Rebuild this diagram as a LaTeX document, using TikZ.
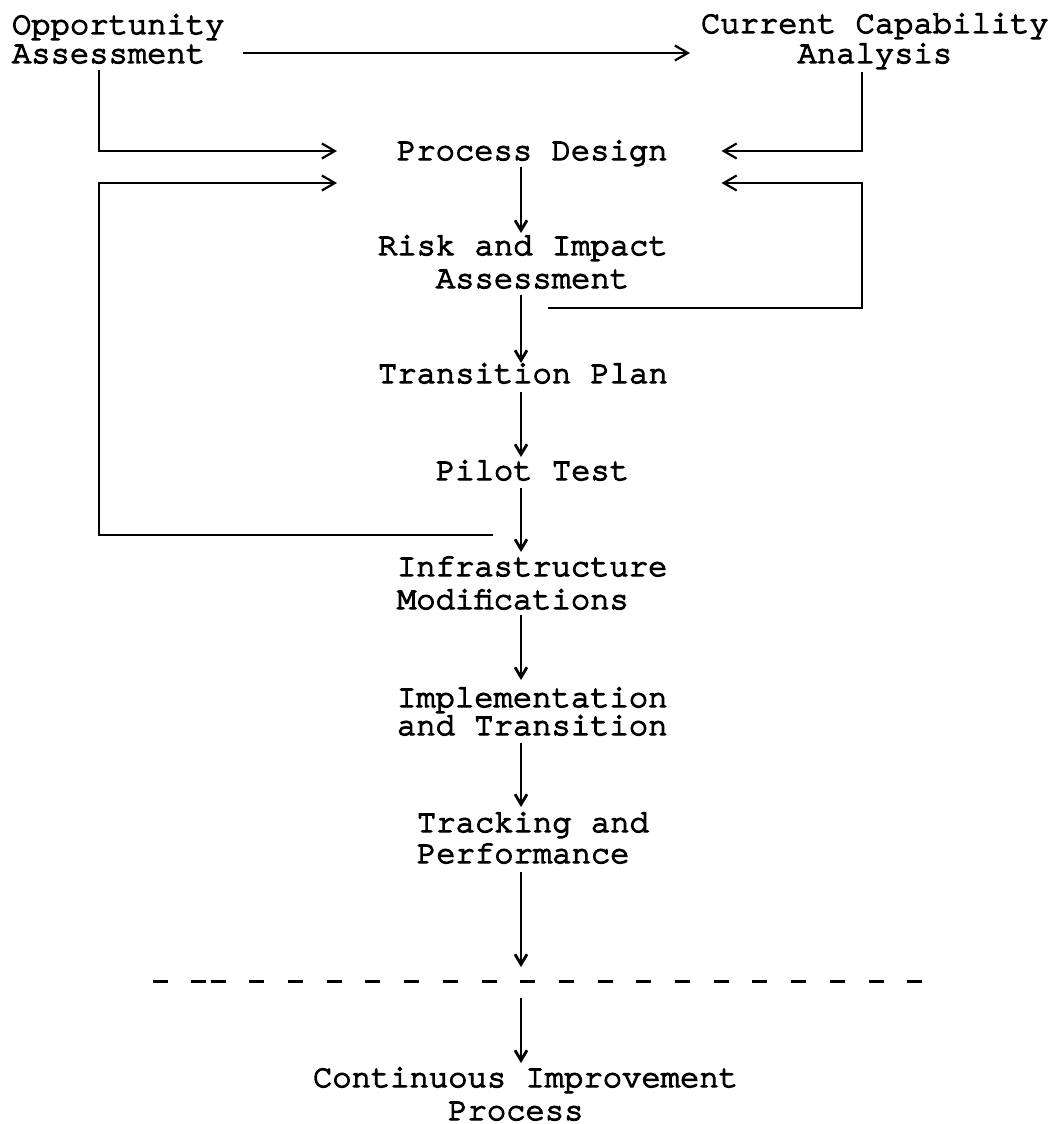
\documentclass[tikz,border=0pt]{standalone}
\usepackage{fontspec}
\newfontfamily\courfont[FakeBold=4]{TeX Gyre Cursor}
\usetikzlibrary{arrows.meta,calc}
\begin{document}
\begin{tikzpicture}[x=1pt,y=-1pt,
  txt/.style={font={\courfont\fontsize{32.2pt}{#1}\selectfont}, align=left,
    inner sep=0pt, outer sep=0pt, anchor=base west},
  txt/.default=32pt,
  conn/.style={line width=2pt, line join=miter},
  harrow/.style={conn, -{Straight Barb[length=13pt,width=15pt,line width=2.2pt]}},
  varrow/.style={conn, -{Straight Barb[length=10pt,width=12pt,line width=2.8pt]}},
  dashline/.style={line width=3pt, dash pattern=on 15pt off 23.7pt}]
\useasboundingbox (0,0) rectangle (1050,1124);

% texts (anchor = baseline of the last line)
\node[txt=29pt] (opp) at (12,63) {Opportunity\\Assessment};
\node[txt=30pt] (cur) at (701,63) {Current Capability\\\hphantom{xxxxx}Analysis};
\node[txt] (pd) at (397,160) {Process Design};
\node[txt=33pt] (risk) at (378,288) {Risk and Impact\\\hphantom{xxx}Assessment};
\node[txt] (tp) at (378,383) {Transition Plan};
\node[txt] (pilot) at (436,480) {Pilot Test};
\node[txt=33pt] (infra) at (397,609) {Infrastructure\\Modifications};
\node[txt=28pt] (impl) at (397,735) {Implementation\\and Transition};
\node[txt=31pt] (track) at (417,863) {Tracking and\\Performance};
\node[txt=33pt] (cip) at (313,1120) {Continuous Improvement\\\hphantom{xxxxxxx}Process};

% helper coordinates
\coordinate (col) at (521,0);
\coordinate (lx) at ($(opp.base west)+(87,0)$);
\coordinate (rx) at ($(cur.base west)+(161,0)$);
\coordinate (sep) at (521,981);

% separator line
\draw[dashline] (152.6,981) -- (206.3,981);
\draw[dashline] (210.65,981) -- (922.3,981);

% top connectors
\draw[harrow] ($(opp.base west)+(231,-10)$) -- ($(cur.base west)+(-11,-10)$);
\draw[harrow] ($(opp.base west)+(87,7)$) |- ($(pd.base west)+(-60,-9)$);
\draw[harrow] ($(cur.base west)+(161,9)$) |- ($(pd.base east)+(54,-9)$);
\draw[harrow] ($(pilot.base west)+(57,55)$) -| ($(lx |- pd.base)+(0,23)$) -- ($(pd.base west)+(-60,23)$);
\draw[harrow] ($(risk.base west)+(170,20)$) -| ($(rx |- pd.base)+(0,23)$) -- ($(pd.base east)+(54,23)$);

% main column
\draw[varrow] ($(col |- pd.base)+(0,7)$) -- ($(col |- risk.base)+(0,-55)$);
\draw[varrow] ($(col |- risk.base)+(0,7)$) -- ($(col |- tp.base)+(0,-20)$);
\draw[varrow] ($(col |- tp.base)+(0,9)$) -- ($(col |- pilot.base)+(0,-23)$);
\draw[varrow] ($(col |- pilot.base)+(0,8)$) -- ($(col |- infra.base)+(0,-57)$);
\draw[varrow] ($(col |- infra.base)+(0,6)$) -- ($(col |- impl.base)+(0,-55)$);
\draw[varrow] ($(col |- impl.base)+(0,8)$) -- ($(col |- track.base)+(0,-56)$);
\draw[varrow] ($(col |- track.base)+(0,9)$) -- ($(sep)+(0,-14)$);
\draw[varrow] ($(sep)+(0,17)$) -- ($(col |- cip.base)+(0,-57)$);
\end{tikzpicture}
\end{document}
